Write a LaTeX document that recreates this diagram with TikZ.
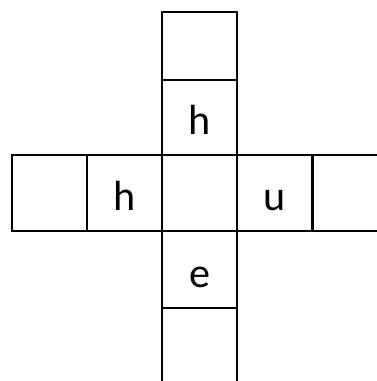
\documentclass[tikz,border=0pt]{standalone}
\usepackage{fontspec}
\setmainfont{Carlito}
\begin{document}
\begin{tikzpicture}[
  x=0.02cm, y=-0.02cm,
  every node/.style={font=\fontsize{24}{28}\selectfont, anchor=base},
  grid/.style={line width=1.7pt, line cap=rect}
]
  \useasboundingbox (0,0) rectangle (377,381);

  % vertical strip
  \draw[grid] (162,381) -- (162,12) -- (237,12) -- (237,381);
  \draw[grid] (162,80) -- (237,80) (162,308) -- (237,308);
  % horizontal strip
  \draw[grid] (377,155) -- (12,155) -- (12,231) -- (377,231);
  \draw[grid] (87,155) -- (87,231) (312,155) -- (312,231);

  \node (up)    at (199.5,135) {h};
  \node (left)  at (124.5,211) {h};
  \node (right) at (274.5,211) {u};
  \node (down)  at (199.5,287) {e};
\end{tikzpicture}
\end{document}
